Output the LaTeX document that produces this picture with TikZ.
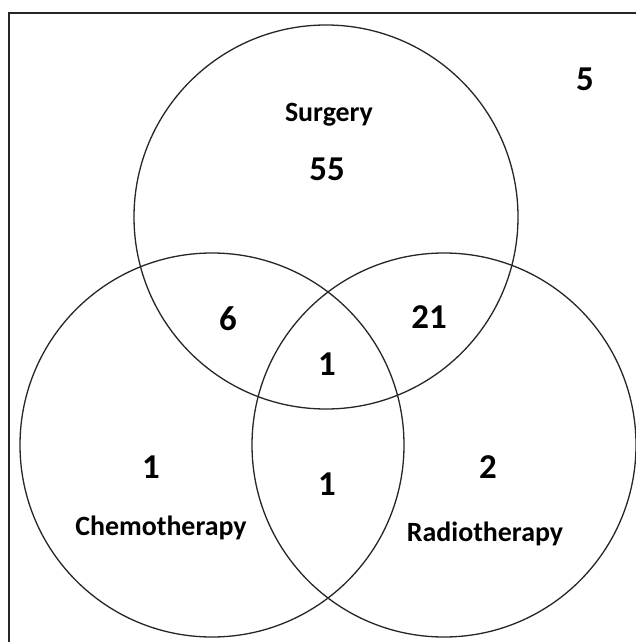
\documentclass[tikz,border=0pt]{standalone}
\usepackage{fontspec}
\setmainfont{Carlito}
\begin{document}
\begin{tikzpicture}[x=1bp,y=-1bp,
  ring/.style={draw=black!85,line width=1.3bp,circle,minimum size=384bp,inner sep=0pt},
  num/.style={font=\fontsize{35}{40}\selectfont\bfseries,inner sep=0pt,anchor=base},
  lbl/.style={font=\fontsize{28}{32}\selectfont\bfseries,inner sep=0pt,anchor=base}]
\useasboundingbox (0,0) rectangle (636,642);
\clip (0,0) rectangle (636,642);
\fill[white] (0,0) rectangle (636,642);
\draw[line width=1.5bp,black!85] (9,13) rectangle (660,660);
\node[ring] (cs) at (326,217) {};
\node[ring] (cc) at (212,445) {};
\node[ring] (cr) at (444,445) {};
\node[lbl] (ls) at (329,121.5) {Surgery};
\node[lbl] (lc) at (161,535.5) {Chemotherapy};
\node[lbl] (lr) at (485,541) {Radiotherapy};
\node[num] (n5) at (585,91) {5};
\node[num] (n55) at (327,180.5) {55};
\node[num] (n6) at (228,330.5) {6};
\node[num] (n21) at (429,328.5) {21};
\node[num] (nall) at (327,375) {1};
\node[num] (nc) at (151,478) {1};
\node[num] (ncr) at (327,495) {1};
\node[num] (nr) at (488,478) {2};
\end{tikzpicture}
\end{document}
